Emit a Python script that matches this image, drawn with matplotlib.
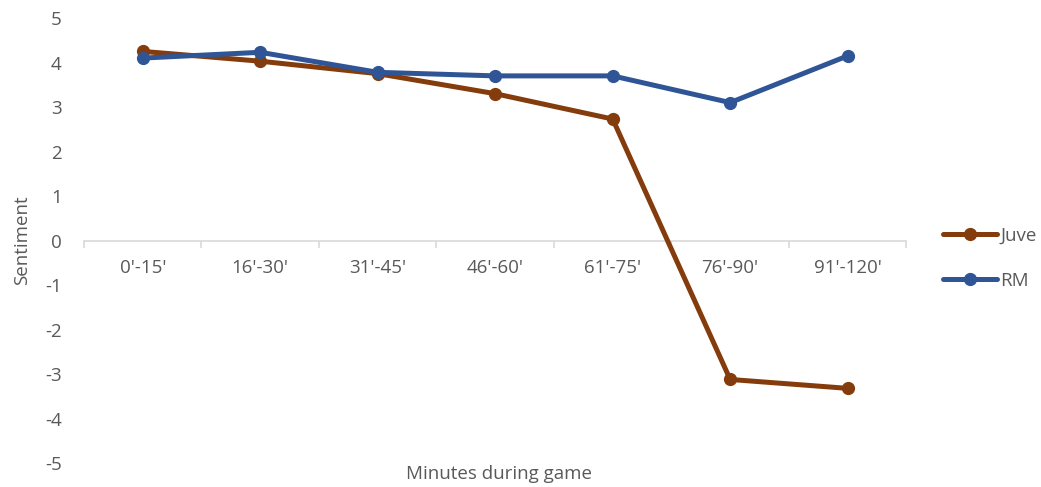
import matplotlib
matplotlib.use("Agg")
import matplotlib.pyplot as plt

categories = ["0'-15'", "16'-30'", "31'-45'", "46'-60'", "61'-75'", "76'-90'", "91'-120'"]
juve = [4.25, 4.03, 3.75, 3.30, 2.73, -3.12, -3.32]
rm = [4.10, 4.23, 3.78, 3.70, 3.70, 3.10, 4.15]

plt.rcParams['font.family'] = ['Open Sans', 'DejaVu Sans']
plt.rcParams['axes.unicode_minus'] = False
text_color = "#595959"
axis_color = "#D9D9D9"
fs = 13.5

fig = plt.figure(figsize=(10.41, 4.87), dpi=100)
ax = fig.add_axes([0.0807, 0.049, 0.790, 0.914])

x = list(range(len(categories)))
ax.plot(x, juve, color="#843C0C", lw=3.6, marker="o", ms=8.5, label="Juve",
        solid_capstyle="round", zorder=3)
ax.plot(x, rm, color="#2F5597", lw=3.6, marker="o", ms=8.5, label="RM",
        solid_capstyle="round", zorder=3)

ax.set_xlim(-0.5, len(categories) - 0.5)
ax.set_ylim(-5, 5)
ax.set_yticks(range(-5, 6))

for s in ["top", "right", "left"]:
    ax.spines[s].set_visible(False)
ax.spines["bottom"].set_position(("data", 0))
ax.spines["bottom"].set_color(axis_color)
ax.spines["bottom"].set_linewidth(1.2)

ax.set_xticks(x)
ax.set_xticklabels(categories)
ax.set_xticks([i - 0.5 for i in range(len(categories) + 1)], minor=True)
ax.tick_params(axis="x", which="major", length=0, pad=13, labelsize=fs, labelcolor=text_color)
ax.tick_params(axis="x", which="minor", length=5, width=1.2, color=axis_color, direction="out")
ax.tick_params(axis="y", length=0, pad=16, labelsize=fs, labelcolor=text_color)

ax.set_ylabel("Sentiment", fontsize=fs, color=text_color, labelpad=10)
ax.set_xlabel("Minutes during game", fontsize=fs, color=text_color)
ax.xaxis.set_label_coords(0.505, -0.005)

fig.legend(handles=ax.get_lines(), loc="center left",
           bbox_to_anchor=(943 / 1041, 1 - 258 / 487), frameon=False,
           fontsize=fs, labelspacing=1.45, handlelength=2.9, handletextpad=0.15,
           borderpad=0, borderaxespad=0, labelcolor=text_color)

fig.savefig("out.png", dpi=100, facecolor="white")
